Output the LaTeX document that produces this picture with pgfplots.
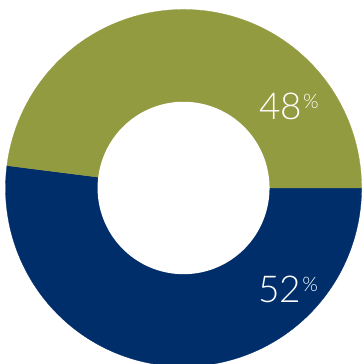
\documentclass[border=0pt]{standalone}
\usepackage{pgfplots}
\pgfplotsset{compat=1.18}
\usepackage{pgfplotstable}
\usepackage{fontspec}
\setmainfont{Lato}[UprightFont={* Light}]
\definecolor{navy}{RGB}{0,46,106}
\definecolor{olive}{RGB}{147,155,65}
\pgfplotstableread{
label value
Navy 52
Olive 48
}\donutdata
\pgfplotstablegetelem{0}{value}\of\donutdata \let\va\pgfplotsretval
\pgfplotstablegetelem{1}{value}\of\donutdata \let\vb\pgfplotsretval
\pgfmathsetmacro\angA{-3.6*\va}
\pgfmathsetmacro\angB{\angA-3.6*\vb}
\begin{document}%
\begin{tikzpicture}
\begin{axis}[
  scale only axis, width=363pt, height=364pt,
  xmin=-1.031, xmax=1.008, ymin=-0.986, ymax=1.053,
  hide axis, clip=true, enlargelimits=false,
]
\addplot[fill=navy, draw=navy, line width=0.3pt, domain=0:\angA, samples=150, variable=\t] ({cos(\t)},{sin(\t)}) -- (axis cs:0,0) -- cycle;
\addplot[fill=olive, draw=olive, line width=0.3pt, domain=\angA:\angB, samples=150, variable=\t] ({cos(\t)},{sin(\t)}) -- (axis cs:0,0) -- cycle;
\addplot[fill=white, draw=none, domain=0:360, samples=180, variable=\t] ({0.483*cos(\t)},{0.483*sin(\t)}) -- cycle;
\node[anchor=base west, inner sep=0pt, text=white] at (axis cs:0.424,0.385)
  {\fontsize{37}{37}\selectfont 48\hspace{1pt}\fontsize{20}{20}\selectfont\raisebox{11pt}{\%}};
\node[anchor=base west, inner sep=0pt, text=white] at (axis cs:0.419,-0.643)
  {\fontsize{37}{37}\selectfont 52\hspace{1pt}\fontsize{20}{20}\selectfont\raisebox{11pt}{\%}};
\end{axis}
\pgfresetboundingbox
\path (current axis.south west) rectangle (current axis.north east);
\end{tikzpicture}%
\end{document}
